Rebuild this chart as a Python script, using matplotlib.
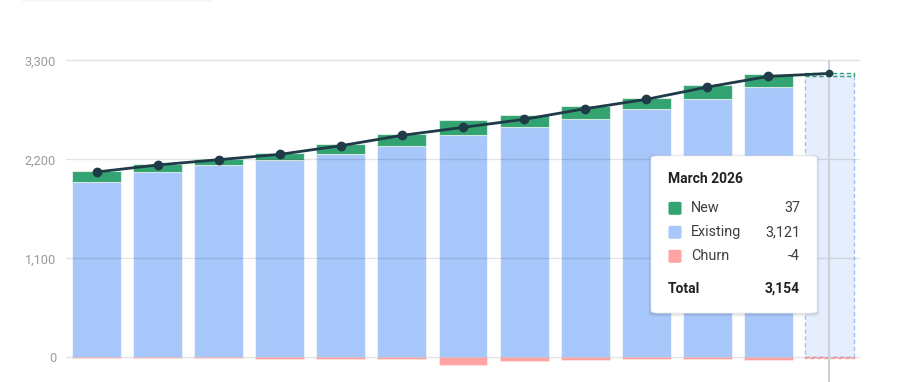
import matplotlib
matplotlib.use('Agg')
import matplotlib.pyplot as plt
from matplotlib.patches import FancyBboxPatch, Rectangle
import numpy as np

plt.rcParams['font.family'] = ['Roboto', 'DejaVu Sans']

# monthly customer movement, Mar 2025 .. Mar 2026
months = ['Mar 2025', 'Apr 2025', 'May 2025', 'Jun 2025', 'Jul 2025', 'Aug 2025',
          'Sep 2025', 'Oct 2025', 'Nov 2025', 'Dec 2025', 'Jan 2026', 'Feb 2026',
          'Mar 2026']
existing = [1944, 2059, 2137, 2196, 2255, 2351, 2466, 2555, 2644, 2762, 2866, 3003, 3121]
new = [126, 89, 66, 74, 115, 129, 170, 134, 145, 122, 159, 145, 37]
churn = [-11, -11, -7, -15, -19, -14, -81, -45, -27, -18, -22, -27, -4]
yticks = [0, 1100, 2200, 3300]
hover = 12
tip_title = 'March 2026'

c_new = '#34a372'
c_exist = '#a8c7fa'
c_churn = '#ffa3a3'
c_line = '#1f3b47'

x = np.arange(len(months))
ex = np.array(existing)
nw = np.array(new)
ch = np.array(churn)
total = ex + nw + ch

fig = plt.figure(figsize=(8.99, 3.82), dpi=100)
# axes: x from px 66 to 860, y from -274 (bottom of image) to 3330
ax = fig.add_axes([66 / 899, 0, (860 - 66) / 899, (382 - 57.6) / 382])
ax.set_xlim(-0.5, len(months) - 0.5)
ax.set_ylim(-274, 3330)

w = 0.8
m = x != hover
ax.bar(x[m], ex[m], width=w, color=c_exist, edgecolor=(1, 1, 1, 0.6), linewidth=0.8, zorder=2)
ax.bar(x[m], nw[m], bottom=ex[m], width=w, color=c_new, edgecolor=(1, 1, 1, 0.6), linewidth=0.8, zorder=2)
ax.bar(x[m], ch[m], width=w, color=c_churn, edgecolor=(1, 1, 1, 0.4), linewidth=0.5, zorder=2)

# hovered month: pale fill with dashed outlines
h = hover
ax.bar(h, ex[h], width=w, color='#e6eefd', edgecolor='#9fc1f8', linewidth=1, linestyle=(0, (3, 2)), zorder=2)
ax.bar(h, nw[h], bottom=ex[h], width=w, color='#e6eefd', edgecolor=c_new, linewidth=1, linestyle=(0, (3, 2)), zorder=2)
ax.bar(h, ch[h], width=w, color='#fde6e6', edgecolor=c_churn, linewidth=1, linestyle=(0, (3, 2)), zorder=2)

# gridlines drawn on top of the bars
for t in yticks:
    ax.axhline(t, color=(0, 0, 0, 0.11), linewidth=1, zorder=3)

ax.vlines(h, -274, 3300, color='#cdd2da', linewidth=1.5, zorder=4)

ax.plot(x, total, color=c_line, linewidth=2, zorder=5)
ax.plot(x[:-1], total[:-1], 'o', color=c_line, markersize=6, zorder=6)
ax.plot(x[-1:], total[-1:], 'o', color=c_line, markersize=4.5, zorder=6)

ax.set_yticks(yticks)
ax.set_yticklabels([f'{t:,}' for t in yticks])
ax.tick_params(axis='y', length=0, pad=7.2, labelsize=9.2, labelcolor='#9a9a9a')
ax.set_xticks([])
for s in ax.spines.values():
    s.set_visible(False)

# tooltip box
bx, by, bw, bh = 651, 156, 166, 157
for i, a in enumerate([0.05, 0.035, 0.025]):
    sh = FancyBboxPatch(((bx - 1 - i) / 899, 1 - (by + bh + 2 + i) / 382),
                        (bw + 2 + 2 * i) / 899, (bh + 2 + 2 * i) / 382,
                        boxstyle='round,pad=0,rounding_size=0.008', transform=fig.transFigure,
                        facecolor=(0, 0, 0, a), edgecolor='none', zorder=9)
    fig.patches.append(sh)
box = FancyBboxPatch((bx / 899, 1 - (by + bh) / 382), bw / 899, bh / 382,
                     boxstyle='round,pad=0,rounding_size=0.007', transform=fig.transFigure,
                     facecolor='white', edgecolor='#ececec', linewidth=0.5, zorder=10)
fig.patches.append(box)


def fx(px):
    return px / 899


def fy(py):
    return 1 - py / 382


fig.text(fx(668), fy(179), tip_title, fontsize=10, fontweight='bold', color='#202124',
         va='center', ha='left', zorder=11)
rows = [('New', new[h], c_new), ('Existing', existing[h], c_exist), ('Churn', churn[h], c_churn)]
for i, (lab, val, col) in enumerate(rows):
    yy = 208.3 + i * 24
    sq = FancyBboxPatch((fx(668.5), fy(yy + 6.5)), 13 / 899, 13 / 382,
                        boxstyle='round,pad=0,rounding_size=0.003', transform=fig.transFigure,
                        facecolor=col, edgecolor='none', zorder=11)
    fig.patches.append(sq)
    fig.text(fx(691), fy(yy), lab, fontsize=10.4, color='#3c4043', va='center', ha='left', zorder=11)
    fig.text(fx(800), fy(yy), f'{val:,}', fontsize=10.4, color='#3c4043', va='center', ha='right', zorder=11)
fig.text(fx(668), fy(289), 'Total', fontsize=10, fontweight='bold', color='#202124',
         va='center', ha='left', zorder=11)
fig.text(fx(800), fy(289), f'{total[h]:,}', fontsize=10, fontweight='bold', color='#202124',
         va='center', ha='right', zorder=11)

# faint shadow of a header element at the very top
fig.patches.append(Rectangle((fx(22), fy(2)), 190 / 899, 2 / 382, transform=fig.transFigure,
                             facecolor=(0, 0, 0, 0.03), edgecolor='none'))

fig.savefig('out.png', dpi=100)
